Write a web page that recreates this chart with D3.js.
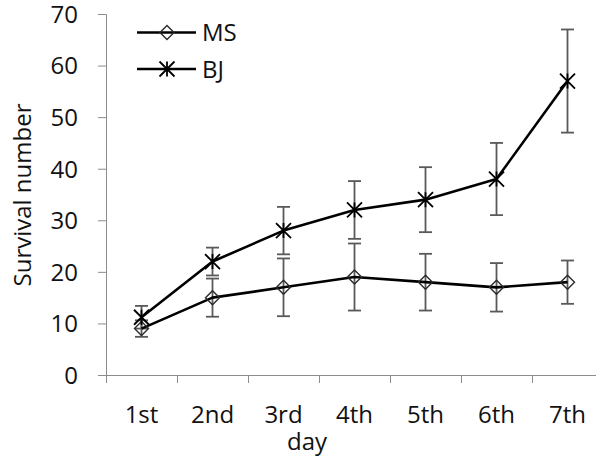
<!DOCTYPE html>
<html>
<head>
<meta charset="utf-8">
<script src="https://cdn.jsdelivr.net/npm/d3@7"></script>
<style>
  html, body { margin: 0; padding: 0; background: #fff; }
  svg { display: block; }
  text { font-family: "Open Sans", "Liberation Sans", sans-serif; fill: #111; }
</style>
</head>
<body>
<svg id="chart" width="596" height="457"></svg>
<script>
const categories = ["1st", "2nd", "3rd", "4th", "5th", "6th", "7th"];
const msValues = [9, 15, 17, 19, 18, 17, 18];
const msErrors = [1.6, 3.7, 5.6, 6.5, 5.5, 4.7, 4.2];
const bjValues = [11.2, 22, 28, 32, 34, 38, 57];
const bjErrors = [2.2, 2.7, 4.6, 5.6, 6.3, 7, 10];
const yTicks = [0, 10, 20, 30, 40, 50, 60, 70];
const seriesNames = ["MS", "BJ"];
const yTitle = "Survival number";
const xTitle = "day";

const svg = d3.select("#chart");
const plotLeft = 106, plotRight = 603, plotTop = 14, plotBottom = 375;

const x = d3.scaleBand().domain(categories).range([plotLeft, plotRight]).paddingInner(0).paddingOuter(0);
const y = d3.scaleLinear().domain([0, 70]).range([plotBottom, plotTop]);
const cx = d => x(d) + x.bandwidth() / 2;

const axisColor = "#8c8c8c";

// Y axis
const yAxis = d3.axisLeft(y).tickValues(yTicks).tickSize(8).tickPadding(20).tickFormat(d3.format("d"));
const gy = svg.append("g").attr("transform", `translate(${plotLeft},0)`).call(yAxis);
gy.select(".domain").attr("stroke", axisColor).attr("stroke-width", 1);
gy.selectAll(".tick line").attr("stroke", axisColor);
gy.selectAll(".tick text").attr("font-size", 24).attr("font-family", "Open Sans").attr("fill", "#111").attr("dy", "0.35em");

// X axis (labels at centers, ticks at band boundaries)
const xAxis = d3.axisBottom(x).tickSize(0).tickPadding(0);
const gx = svg.append("g").attr("transform", `translate(0,${plotBottom})`).call(xAxis);
gx.select(".domain").remove();
gx.selectAll(".tick text").attr("font-size", 24).attr("font-family", "Open Sans").attr("fill", "#111").attr("dy", null).attr("y", 48);
svg.append("line").attr("x1", plotLeft).attr("x2", plotRight).attr("y1", plotBottom + 0.5).attr("y2", plotBottom + 0.5)
  .attr("stroke", axisColor).attr("stroke-width", 1);
svg.append("g").selectAll("line").data(categories.concat(["__end"])).join("line")
  .attr("x1", (d, i) => (i < categories.length ? x(d) : plotRight) + 0.5)
  .attr("x2", (d, i) => (i < categories.length ? x(d) : plotRight) + 0.5)
  .attr("y1", plotBottom).attr("y2", plotBottom + 8)
  .attr("stroke", axisColor);

// Axis titles
svg.append("text").attr("transform", "translate(31,195) rotate(-90)")
  .attr("text-anchor", "middle").attr("font-size", 24).text(yTitle);
svg.append("text").attr("x", 307).attr("y", 450)
  .attr("text-anchor", "middle").attr("font-size", 24).text(xTitle);

// Data
const ms = categories.map((c, i) => ({c, v: msValues[i], e: msErrors[i]}));
const bj = categories.map((c, i) => ({c, v: bjValues[i], e: bjErrors[i]}));

const errColor = "#595959";
function errorBars(data) {
  const g = svg.append("g").attr("stroke", errColor).attr("stroke-width", 1.8).attr("fill", "none");
  g.selectAll(".v").data(data).join("line")
    .attr("x1", d => cx(d.c)).attr("x2", d => cx(d.c))
    .attr("y1", d => y(d.v + d.e)).attr("y2", d => y(d.v - d.e));
  g.selectAll(".t").data(data).join("line")
    .attr("x1", d => cx(d.c) - 6.5).attr("x2", d => cx(d.c) + 6.5)
    .attr("y1", d => y(d.v + d.e)).attr("y2", d => y(d.v + d.e));
  g.selectAll(".b").data(data).join("line")
    .attr("x1", d => cx(d.c) - 6.5).attr("x2", d => cx(d.c) + 6.5)
    .attr("y1", d => y(d.v - d.e)).attr("y2", d => y(d.v - d.e));
}
errorBars(ms);
errorBars(bj);

const line = d3.line().x(d => cx(d.c)).y(d => y(d.v));
svg.append("path").datum(ms).attr("d", line).attr("fill", "none").attr("stroke", "#000").attr("stroke-width", 2.6).attr("stroke-linejoin", "round");
svg.append("path").datum(bj).attr("d", line).attr("fill", "none").attr("stroke", "#000").attr("stroke-width", 2.6).attr("stroke-linejoin", "round");

function diamond(g, px, py) {
  const r = 7;
  g.append("path").attr("d", `M${px},${py - r}L${px + r},${py}L${px},${py + r}L${px - r},${py}Z`)
    .attr("fill", "none").attr("stroke", "#2a2a2a").attr("stroke-width", 1.4);
}
function star(g, px, py) {
  const r = 7.5;
  g.append("path").attr("d", `M${px - r},${py - r}L${px + r},${py + r}M${px - r},${py + r}L${px + r},${py - r}M${px},${py - r}L${px},${py + r}`)
    .attr("fill", "none").attr("stroke", "#000").attr("stroke-width", 1.8);
}
const gm = svg.append("g");
ms.forEach(d => diamond(gm, cx(d.c), y(d.v)));
bj.forEach(d => star(gm, cx(d.c), y(d.v)));

// Legend
const legend = svg.append("g");
const legY = [32.5, 69];
seriesNames.forEach((name, i) => {
  legend.append("line").attr("x1", 137).attr("x2", 196).attr("y1", legY[i]).attr("y2", legY[i])
    .attr("stroke", "#000").attr("stroke-width", 2.6);
  if (i === 0) diamond(legend, 167, legY[i]); else star(legend, 167, legY[i]);
  legend.append("text").attr("x", 202).attr("y", legY[i] + 8.5).attr("font-size", 24).text(name);
});
</script>
</body>
</html>
